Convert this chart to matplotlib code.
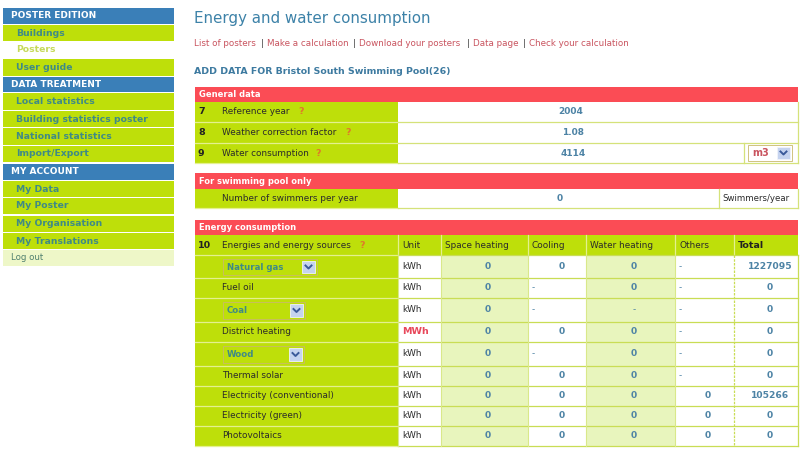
import matplotlib
matplotlib.use('Agg')
import matplotlib.pyplot as plt
from matplotlib.patches import Rectangle

# data
menu_items = [('POSTER EDITION', 'head'), ('Buildings', 'item'), ('Posters', 'active'), ('User guide', 'item'),
              ('DATA TREATMENT', 'head'), ('Local statistics', 'item'), ('Building statistics poster', 'item'),
              ('National statistics', 'item'), ('Import/Export', 'item'),
              ('MY ACCOUNT', 'head'), ('My Data', 'item'), ('My Poster', 'item'), ('My Organisation', 'item'),
              ('My Translations', 'item'), ('Log out', 'logout')]
links = ['List of posters', 'Make a calculation', 'Download your posters', 'Data page', 'Check your calculation']
general_labels = ['Reference year', 'Weather correction factor', 'Water consumption']
general_nums = ['7', '8', '9']
general_values = ['2004', '1.08', '4114']
energy_cols = ['Unit', 'Space heating', 'Cooling', 'Water heating', 'Others', 'Total']
energy_sources = ['Natural gas', 'Fuel oil', 'Coal', 'District heating', 'Wood', 'Thermal solar',
                  'Electricity (conventional)', 'Electricity (green)', 'Photovoltaics']
dropdown_rows = [0, 2, 4]
units = ['kWh', 'kWh', 'kWh', 'MWh', 'kWh', 'kWh', 'kWh', 'kWh', 'kWh']
space_heating = ['0', '0', '0', '0', '0', '0', '0', '0', '0']
cooling = ['0', '-', '-', '0', '-', '0', '0', '0', '0']
water_heating = ['0', '0', '-', '0', '0', '0', '0', '0', '0']
others = ['-', '-', '-', '-', '-', '-', '0', '0', '0']
totals = ['1227095', '0', '0', '0', '0', '0', '105266', '0', '0']

# colours
GREEN = '#bedf0a'
PALE = '#e8f5bd'
BLUE = '#3a7fb8'
RED = '#fb4c55'
LINK = '#c9545f'
TXT = '#2b2b2b'
VAL = '#4d83a5'
BORDER = '#d5e27a'
ROWLINE = '#c9dd55'
GREENLINE = '#e4f08f'

# layout, in pixels
menu_tops = [8, 25, 42, 59, 77, 93, 111, 128, 146, 164, 181, 198, 216, 233, 250]
menu_bottoms = [24, 41, 58, 76, 92, 110, 127, 145, 162, 180, 197, 214, 232, 249, 266]
col_edges = [195, 398, 441, 528, 586, 675, 734, 798]
row_edges = [255, 278, 298, 322, 342, 366, 386, 406, 426, 446]
value_x = [488, 562, 634, 708, 770]
general_value_x = [571, 573, 573]
link_x = [194, 267, 359, 473, 529]
help_x = [298, 345, 315]
dd_right = [317, 305, 304]

fig = plt.figure(figsize=(8, 4.53), dpi=100)
ax = fig.add_axes([0, 0, 1, 1])
ax.set_xlim(0, 800)
ax.set_ylim(453, 0)
ax.axis('off')
plt.rcParams['font.family'] = ['DejaVu Sans']


def box(x0, y0, x1, y1, color, edge='none', lw=0.0, z=1):
    ax.add_patch(Rectangle((x0, y0), x1 - x0, y1 - y0, facecolor=color, edgecolor=edge, linewidth=lw, zorder=z))


def txt(x, y, s, size=6.6, color=TXT, weight='normal', ha='left'):
    ax.text(x, y, s, fontsize=size, color=color, fontweight=weight, ha=ha, va='center', zorder=5)


def hline(y, color=BORDER):
    ax.plot([195, 398], [y, y], color=GREENLINE, lw=0.9, zorder=2)
    ax.plot([398, 798], [y, y], color=color, lw=0.9, zorder=2)


def dropdown(x0, y0, x1, y1, label, color, size=6.2):
    box(x0, y0, x1, y1, 'none', edge='#c9b96a', lw=0.6, z=3)
    txt(x0 + 4, (y0 + y1) / 2, label, size=size, color=color, weight='bold')
    box(x1 - 15, y0 + 2, x1 - 2, y1 - 2, '#c5d3ef', edge='#f0f3fa', lw=0.6, z=4)
    ax.plot([x1 - 11.5, x1 - 8.5, x1 - 5.5], [(y0 + y1) / 2 - 1.5, (y0 + y1) / 2 + 1.5, (y0 + y1) / 2 - 1.5],
            color='#3a5a9a', lw=1.4, zorder=5)


# sidebar
for (label, kind), top, bot in zip(menu_items, menu_tops, menu_bottoms):
    mid = (top + bot) / 2
    if kind == 'head':
        box(3, top, 174, bot, BLUE)
        txt(11, mid, label, size=6.5, color='white', weight='bold')
    elif kind == 'item':
        box(3, top, 174, bot, GREEN)
        txt(16, mid, label, size=6.7, color='#3f8a86', weight='bold')
    elif kind == 'active':
        txt(16, mid, label, size=6.7, color='#c6da5a', weight='bold')
    else:
        box(3, top, 174, bot, '#eef7c8')
        txt(11, mid, label, size=6.2, color='#4f7f6e')

# headings
txt(194, 18, 'Energy and water consumption', size=10.9, color='#3d82a8')
for i, (x, s) in enumerate(zip(link_x, links)):
    txt(x, 43, s, size=6.35, color=LINK)
    if i < len(links) - 1:
        txt(link_x[i + 1] - 5, 43, '|', size=6.2, color='#444444', ha='center')
txt(194, 72, 'ADD DATA FOR Bristol South Swimming Pool(26)', size=6.75, color='#3d7aa0', weight='bold')

# general data
box(195, 87, 798, 102, RED)
txt(199, 94.5, 'General data', size=6.0, color='white', weight='bold')
general_rows = [102, 122, 143, 163]
box(195, 102, 398, 163, GREEN)
for i in range(3):
    top, bot = general_rows[i], general_rows[i + 1]
    mid = (top + bot) / 2
    hline(bot)
    txt(198, mid, general_nums[i], size=6.8, color='#222222', weight='bold')
    txt(222, mid, general_labels[i], size=6.4)
    txt(help_x[i], mid, '?', size=6.8, color='#e0782a', weight='bold')
    txt(general_value_x[i], mid, general_values[i], size=6.5, color=VAL, weight='bold', ha='center')
ax.plot([744, 744], [143, 163], color=BORDER, lw=0.9, zorder=2)
ax.plot([798, 798], [102, 163], color=BORDER, lw=0.9, zorder=2)
dropdown(748, 145, 792, 161, 'm3', LINK, size=7.0)

# swimming pool
box(195, 173, 798, 189, RED)
txt(199, 181, 'For swimming pool only', size=6.0, color='white', weight='bold')
box(195, 189, 398, 208, GREEN)
hline(208)
ax.plot([719, 719], [189, 208], color=BORDER, lw=0.9, zorder=2)
ax.plot([798, 798], [189, 208], color=BORDER, lw=0.9, zorder=2)
txt(222, 198.5, 'Number of swimmers per year', size=6.4)
txt(560, 198.5, '0', size=6.5, color=VAL, weight='bold', ha='center')
txt(722, 198.5, 'Swimmers/year', size=6.2)

# energy table
box(195, 220, 798, 235, RED)
txt(199, 227.5, 'Energy consumption', size=6.0, color='white', weight='bold')
box(195, 235, 798, 255, GREEN)
txt(198, 245, '10', size=6.8, color='#222222', weight='bold')
txt(222, 245, 'Energies and energy sources', size=6.4)
txt(359, 245, '?', size=6.8, color='#e0782a', weight='bold')
for j, name in enumerate(energy_cols):
    bold = name == 'Total'
    txt(col_edges[j + 1] + 4, 245, name, size=6.8 if bold else 6.4, color='#222222' if bold else TXT,
        weight='bold' if bold else 'normal')
    ax.plot([col_edges[j + 1]] * 2, [235, 255], color=GREENLINE, lw=0.9, zorder=2)

box(195, 255, 398, 446, GREEN)
box(441, 255, 528, 446, PALE)
box(586, 255, 675, 446, PALE)
hline(255, ROWLINE)
value_cols = [space_heating, cooling, water_heating, others, totals]
for i, name in enumerate(energy_sources):
    top, bot = row_edges[i], row_edges[i + 1]
    mid = (top + bot) / 2
    hline(bot, ROWLINE)
    if i in dropdown_rows:
        dropdown(223, top + 4, dd_right[dropdown_rows.index(i)], bot - 3, name, '#3f8a86')
    else:
        txt(222, mid, name, size=6.4)
    if units[i] == 'MWh':
        txt(402, mid, units[i], size=6.8, color='#e8475a', weight='bold')
    else:
        txt(402, mid, units[i], size=6.4)
    for j, col in enumerate(value_cols):
        v = col[i]
        if v == '-':
            # dashes sit left in the white columns, centred under water heating
            if j == 2:
                txt(value_x[j], mid, v, size=6.4, color=VAL, ha='center')
            else:
                txt(col_edges[j + 2] + 4, mid, v, size=6.4, color=VAL)
        else:
            txt(value_x[j], mid, v, size=6.6, color=VAL, weight='bold', ha='center')
for x in [398, 441, 528, 586, 675]:
    ax.plot([x, x], [255, 446], color='#d9e88a', lw=0.8, zorder=2)
ax.plot([734, 734], [255, 446], color=ROWLINE, lw=0.9, ls=(0, (2, 1)), zorder=3)
ax.plot([798, 798], [255, 446], color=ROWLINE, lw=0.9, zorder=2)

fig.savefig('out.png', dpi=100)
